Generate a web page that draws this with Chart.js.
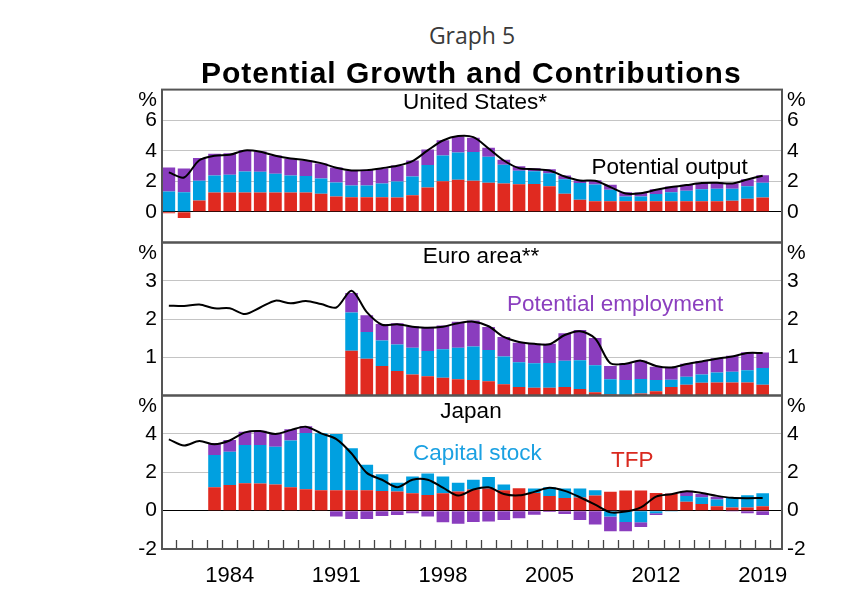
<!DOCTYPE html>
<html><head><meta charset="utf-8">
<script src="https://cdn.jsdelivr.net/npm/chart.js@4/dist/chart.umd.min.js"></script>
<style>
html,body{margin:0;padding:0;background:#fff;}
#wrap{position:relative;width:856px;height:600px;overflow:hidden;background:#fff;font-family:'Liberation Sans',Arial,sans-serif;}
canvas{position:absolute;left:0;}
.t{position:absolute;white-space:nowrap;line-height:1;font-size:22.5px;color:#000;z-index:5;}
.c{transform:translateX(-50%);}
</style></head><body>
<div id="wrap">
<canvas id="cUS" width="856" height="200" style="top:60px"></canvas>
<canvas id="cEU" width="856" height="200" style="top:220px"></canvas>
<canvas id="cJP" width="856" height="230" style="top:380px"></canvas>
<div class="t c" style="left:472px;top:23.6px;font-family:'Open Sans',sans-serif;font-size:23px;color:#3a3a3a;">Graph 5</div>
<div class="t" style="left:201px;top:57.9px;font-size:30px;font-weight:bold;letter-spacing:1px;">Potential Growth and Contributions</div>
<div class="t c" style="left:475px;top:91px;">United States*</div>
<div class="t c" style="left:481px;top:245px;">Euro area**</div>
<div class="t c" style="left:471px;top:399.5px;">Japan</div>
<div class="t" style="left:591.5px;top:155.6px;">Potential output</div>
<div class="t" style="left:507px;top:293.4px;color:#8B3FBF;">Potential employment</div>
<div class="t" style="left:413px;top:442.3px;color:#1BA1E2;">Capital stock</div>
<div class="t" style="left:611px;top:449px;color:#D9291F;">TFP</div>
</div>
<script>
// ---- data ----
const years = [1980,1981,1982,1983,1984,1985,1986,1987,1988,1989,1990,1991,1992,1993,1994,1995,1996,1997,1998,1999,2000,2001,2002,2003,2004,2005,2006,2007,2008,2009,2010,2011,2012,2013,2014,2015,2016,2017,2018,2019];
const yearTickLabels = [1984,1991,1998,2005,2012,2019];

const usOutput = [2.58,2.25,3.38,3.67,3.73,4.02,3.93,3.67,3.49,3.38,3.19,2.88,2.71,2.73,2.86,3.01,3.32,4.02,4.67,4.96,4.89,4.15,3.36,2.86,2.79,2.71,2.31,2.05,2.03,1.62,1.2,1.22,1.44,1.62,1.75,1.88,1.9,1.86,2.12,2.36];
const usTFP = [-0.1,-0.4,0.74,1.27,1.27,1.27,1.27,1.27,1.27,1.27,1.18,1.0,0.96,0.96,0.96,0.94,1.09,1.59,2.0,2.1,2.03,1.9,1.86,1.81,1.83,1.68,1.18,0.79,0.7,0.7,0.7,0.7,0.7,0.7,0.7,0.7,0.7,0.72,0.85,0.94];
const usCapital = [1.33,1.29,1.29,1.11,1.15,1.37,1.35,1.22,1.11,1.07,1.0,0.92,0.76,0.76,0.9,1.05,1.22,1.47,1.69,1.79,1.88,1.7,1.22,0.88,0.83,0.85,0.96,1.09,1.09,0.74,0.3,0.3,0.46,0.59,0.68,0.78,0.81,0.79,0.83,0.96];
const usEmployment = [1.57,1.55,1.49,1.42,1.42,1.4,1.33,1.2,1.09,1.02,0.99,0.98,1.01,1.03,1.0,1.04,1.05,1.02,1.0,1.04,0.94,0.59,0.33,0.3,0.2,0.26,0.24,0.17,0.28,0.33,0.29,0.27,0.32,0.37,0.39,0.42,0.43,0.35,0.46,0.5];

const euOutput = [2.35,2.34,2.38,2.28,2.28,2.13,2.3,2.48,2.41,2.47,2.39,2.3,2.74,2.18,1.85,1.86,1.8,1.77,1.8,1.89,1.93,1.81,1.53,1.4,1.35,1.34,1.58,1.68,1.49,0.84,0.83,0.91,0.77,0.73,0.82,0.89,0.96,1.02,1.11,1.11];
const euTFP = [null,null,null,null,null,null,null,null,null,null,null,null,1.17,0.96,0.77,0.64,0.55,0.5,0.46,0.42,0.4,0.37,0.29,0.22,0.2,0.2,0.22,0.17,0.08,0.03,0.0,0.05,0.11,0.22,0.28,0.33,0.34,0.34,0.34,0.28];
const euCapital = [null,null,null,null,null,null,null,null,null,null,null,null,1.0,0.7,0.67,0.69,0.7,0.66,0.75,0.83,0.88,0.82,0.73,0.65,0.64,0.65,0.69,0.75,0.71,0.39,0.4,0.38,0.29,0.19,0.21,0.22,0.26,0.28,0.32,0.44];
const euEmployment = [null,null,null,null,null,null,null,null,null,null,null,null,0.51,0.44,0.43,0.56,0.56,0.62,0.62,0.68,0.68,0.6,0.51,0.51,0.51,0.5,0.72,0.79,0.71,0.35,0.44,0.48,0.35,0.32,0.34,0.35,0.37,0.42,0.47,0.4];

const jpOutput = [3.72,3.4,3.63,3.46,3.66,4.08,4.15,4.0,4.2,4.38,4.03,3.73,2.98,1.97,1.61,1.22,1.61,1.61,1.2,0.79,1.1,1.22,0.87,0.8,0.98,1.19,1.03,0.7,0.31,-0.09,-0.05,0.17,0.73,0.86,1.01,0.92,0.77,0.67,0.65,0.66];
const jpTFP = [null,null,null,1.22,1.34,1.43,1.41,1.36,1.22,1.12,1.06,1.06,1.06,1.06,1.03,1.0,0.91,0.82,0.91,1.0,1.1,1.15,1.06,1.17,0.92,0.77,0.66,0.68,0.79,0.98,1.05,1.05,0.92,0.88,0.47,0.35,0.23,0.17,0.17,0.23];
const jpCapital = [null,null,null,1.68,1.73,1.99,2.01,1.97,2.44,2.93,2.97,2.94,2.19,1.33,0.87,0.45,0.87,1.12,0.87,0.45,0.51,0.6,0.3,0.0,0.23,0.45,0.49,0.47,0.27,-0.3,-0.59,-0.6,-0.14,-0.05,0.3,0.35,0.35,0.5,0.63,0.68];
const jpEmployment = [null,null,null,0.63,0.61,0.7,0.75,0.7,0.58,0.35,-0.03,-0.3,-0.44,-0.44,-0.28,-0.23,-0.14,-0.31,-0.61,-0.68,-0.59,-0.56,-0.49,-0.4,-0.21,-0.07,-0.17,-0.49,-0.72,-0.77,-0.49,-0.25,-0.09,0.02,0.24,0.17,0.15,-0.01,-0.14,-0.23];

// ---- styling ----
const RED = '#E02A20', BLUE = '#00A0E0', PURPLE = '#8A3DBE';
Chart.defaults.font.family = "'Liberation Sans', Arial, sans-serif";
Chart.defaults.color = '#000';

const pts = arr => years.map((y, i) => ({x: y, y: arr[i]}));

const deco = {
  id: 'deco',
  afterDatasetsDraw(chart, args, opts) {
    const ctx = chart.ctx, a = chart.chartArea;
    ctx.save();
    if (opts.xticks) {
      const xs = chart.scales.x;
      ctx.strokeStyle = '#444'; ctx.lineWidth = 1.3;
      years.forEach(y => {
        const v = y + 0.5;
        if (v < xs.max) {
          const px = Math.round(xs.getPixelForValue(v)) + 0.5;
          ctx.beginPath(); ctx.moveTo(px, a.bottom); ctx.lineTo(px, a.bottom - 9); ctx.stroke();
        }
      });
    }
    ctx.strokeStyle = '#555'; ctx.lineWidth = 2;
    ctx.strokeRect(a.left, a.top, a.right - a.left, a.bottom - a.top);
    ctx.fillStyle = '#000'; ctx.font = "21px 'Liberation Sans', Arial, sans-serif"; ctx.textBaseline = 'middle';
    ctx.textAlign = 'right'; ctx.fillText('%', a.left - 5, a.top + 11);
    ctx.textAlign = 'left'; ctx.fillText('%', a.right + 5, a.top + 11);
    ctx.restore();
  }
};

function panel(id, c) {
  const tickOpts = {
    stepSize: c.step, autoSkip: false, padding: 5, font: {size: 21}, color: '#000',
    callback: v => c.show.includes(v) ? String(v) : ''
  };
  const canvas = document.getElementById(id);
  const chart = new Chart(canvas, {
    type: 'bar',
    data: {
      datasets: [
        {type: 'line', label: 'Potential output', data: pts(c.out), borderColor: '#000', borderWidth: 2, pointRadius: 0, tension: 0.3, stack: 'line', order: 0, fill: false},
        {label: 'TFP', data: pts(c.tfp), backgroundColor: RED, stack: 'b', order: 1},
        {label: 'Capital stock', data: pts(c.cap), backgroundColor: BLUE, stack: 'b', order: 1},
        {label: 'Potential employment', data: pts(c.emp), backgroundColor: PURPLE, stack: 'b', order: 1}
      ]
    },
    options: {
      responsive: false, maintainAspectRatio: false, animation: false, devicePixelRatio: 1,
      layout: {padding: {top: 10, bottom: c.showX ? 0 : 10, left: 0, right: 0}},
      plugins: {legend: {display: false}, tooltip: {enabled: false}, deco: {xticks: c.showX}},
      datasets: {bar: {barPercentage: 0.83, categoryPercentage: 1, borderWidth: 0}},
      scales: {
        x: {
          type: 'linear', min: 1979.55, max: 2020.27, offset: false, display: c.showX,
          grid: {display: false, drawTicks: false}, border: {display: false},
          afterBuildTicks: s => { s.ticks = yearTickLabels.map(v => ({value: v})); },
          afterFit: s => { if (c.showX) s.height = 40; },
          ticks: {autoSkip: false, maxRotation: 0, font: {size: 22}, color: '#000', padding: 14, callback: v => String(v)}
        },
        y: {
          position: 'left', stacked: true, min: c.min, max: c.max,
          afterFit: s => { s.width = 162; },
          grid: {color: ctx => (ctx.tick && ctx.tick.value === 0) ? '#000' : '#c4c4c4', lineWidth: 1, drawTicks: false},
          border: {display: false},
          ticks: tickOpts
        },
        y2: {
          position: 'right', min: c.min, max: c.max,
          afterFit: s => { s.width = 74; },
          grid: {display: false, drawTicks: false}, border: {display: false},
          ticks: tickOpts
        }
      }
    },
    plugins: [deco]
  });
  // fit the canvas so that the plot area lands exactly on the panel box
  let a = chart.chartArea;
  const extra = (a.bottom - a.top) - (c.bottom - c.top);
  if (Math.abs(extra) > 0.01) {
    chart.resize(856, Math.round(chart.height - extra));
    a = chart.chartArea;
  }
  canvas.style.top = (c.top - a.top) + 'px';
  return chart;
}

panel('cUS', {out: usOutput, tfp: usTFP, cap: usCapital, emp: usEmployment, min: -2, max: 8, step: 2, show: [0, 2, 4, 6], showX: false, top: 90, bottom: 243});
panel('cEU', {out: euOutput, tfp: euTFP, cap: euCapital, emp: euEmployment, min: 0, max: 4, step: 1, show: [1, 2, 3], showX: false, top: 243, bottom: 396});
panel('cJP', {out: jpOutput, tfp: jpTFP, cap: jpCapital, emp: jpEmployment, min: -2, max: 6, step: 2, show: [-2, 0, 2, 4], showX: true, top: 396, bottom: 549});
</script>
</body></html>
